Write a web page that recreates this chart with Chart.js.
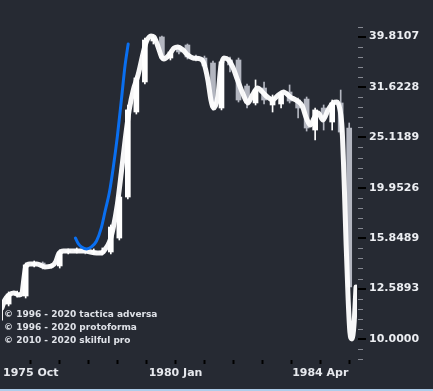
<!DOCTYPE html>
<html><head><meta charset="utf-8">
<script src="https://cdn.jsdelivr.net/npm/chart.js@4/dist/chart.umd.min.js"></script>
<style>html,body{margin:0;padding:0;background:#262a33;overflow:hidden}canvas{display:block}</style>
</head><body>
<canvas id="c" width="433" height="391"></canvas>
<script>
// ---- data ----
const quarters = ['1974 Q4','1975 Q1','1975 Q2','1975 Q3','1975 Q4','1976 Q1','1976 Q2','1976 Q3','1976 Q4',
  '1977 Q1','1977 Q2','1977 Q3','1977 Q4','1978 Q1','1978 Q2','1978 Q3','1978 Q4','1979 Q1','1979 Q2','1979 Q3','1979 Q4',
  '1980 Q1','1980 Q2','1980 Q3','1980 Q4','1981 Q1','1981 Q2','1981 Q3','1981 Q4','1982 Q1','1982 Q2','1982 Q3','1982 Q4',
  '1983 Q1','1983 Q2','1983 Q3','1983 Q4','1984 Q1','1984 Q2','1984 Q3','1984 Q4','1985 Q1'];
const opens  = [10.90,11.73,12.23,12.17,14.03,14.15,13.90,13.96,14.88,14.95,15.02,14.88,14.81,14.88,15.86,19.13,28.21,32.36,39.02,39.75,36.10,
  37.79,38.31,36.27,36.10,35.29,28.73,35.78,35.78,31.77,29.40,31.48,29.13,29.26,30.91,29.80,29.93,25.98,28.73,26.95,29.40,26.22];
const highs  = [12.06,12.40,12.45,14.15,14.28,14.22,14.09,15.02,15.09,15.16,15.09,15.09,15.16,16.84,19.31,29.13,33.25,39.56,39.93,39.93,37.44,
  38.13,38.49,36.60,36.43,35.62,35.78,36.27,36.10,32.06,32.66,32.36,30.49,30.91,31.92,30.07,30.21,28.73,29.13,29.80,31.19,26.83];
const lows   = [10.81,11.63,12.11,12.06,13.90,13.77,13.83,13.83,14.75,14.81,14.75,14.75,14.68,14.75,15.72,18.96,27.95,32.06,38.49,35.78,35.78,
  36.77,35.94,35.62,34.50,28.48,28.48,33.88,29.53,28.73,29.13,29.26,28.21,28.73,29.40,27.45,25.86,24.82,25.98,25.98,25.50,11.95];
const closes = [11.95,12.28,12.34,14.03,14.15,13.90,14.03,14.88,14.95,15.02,14.88,14.95,14.95,16.68,19.13,28.48,32.96,39.20,39.56,36.10,37.11,
  37.11,36.27,35.94,34.82,28.86,35.46,34.98,29.80,29.40,31.19,29.80,30.21,30.63,29.66,28.73,26.22,28.48,27.45,29.40,25.74,12.68];

const trendDates = [1974.84,1974.90,1974.99,1975.11,1975.25,1975.40,1975.49,1975.55,1975.60,1975.72,1975.93,1976.16,1976.36,1976.48,
  1976.57,1976.71,1976.95,1977.33,1977.68,1977.82,1977.94,1978.06,1978.17,1978.29,1978.41,1978.52,1978.64,1978.76,1978.90,1979.05,
  1979.14,1979.28,1979.37,1979.49,1979.58,1979.66,1979.81,1979.96,1980.07,1980.22,1980.36,1980.51,1980.74,1980.83,1980.95,1981.04,
  1981.12,1981.24,1981.33,1981.42,1981.56,1981.68,1981.82,1981.97,1982.12,1982.26,1982.41,1982.55,1982.70,1982.85,1983.02,1983.17,
  1983.37,1983.58,1983.72,1983.84,1983.96,1984.07,1984.19,1984.33,1984.48,1984.63,1984.74,1984.83,1984.89,1984.95,1985.01,1985.07,
  1985.12,1985.18,1985.24,1985.30];
const trendValues = [11.26,11.52,11.95,12.23,12.34,12.23,12.34,13.21,13.90,14.09,14.09,13.90,13.96,14.22,
  14.75,14.95,14.95,14.95,14.81,14.81,15.09,15.58,16.61,18.45,21.45,24.82,28.48,31.19,33.41,36.94,
  38.85,39.93,39.75,37.96,36.43,35.94,36.60,37.79,37.96,37.44,36.60,36.10,35.94,35.29,32.66,29.80,
  28.73,30.21,34.65,36.10,35.78,34.65,32.66,30.77,29.40,30.49,31.48,30.91,30.21,29.80,30.49,30.91,
  30.21,29.66,29.00,27.45,26.58,27.45,28.08,27.20,28.48,29.40,29.53,28.48,26.22,20.68,15.37,11.95,
  10.33,10.00,10.66,12.68];

const signalDates  = [1977.06,1977.15,1977.24,1977.39,1977.53,1977.68,1977.82,1977.94,1978.06,1978.17,1978.29,1978.41,1978.52,1978.61];
const signalValues = [15.86,15.44,15.23,15.09,15.23,15.65,16.61,18.03,19.57,21.85,25.16,29.80,34.98,38.49];

const xTickLabels = ['1975 Oct','1980 Jan','1984 Apr'];
const xTickDates  = [1975.75, 1980.0, 1984.25];
const yTickLabels = ['10.0000','12.5893','15.8489','19.9526','25.1189','31.6228','39.8107'];
const credits = ['\u00A9 1996 - 2020 tactica adversa','\u00A9 1996 - 2020 protoforma','\u00A9 2010 - 2020 skilful pro'];

// ---- styling / construction ----
const BG = '#262a33', UP = '#ffffff', DOWN = '#b3b6c0';
const X_MIN = 1974.903, X_MAX = 1985.329, Y_MIN = 9.085, Y_MAX = 42.56;

function qTime(q){ const p = q.split(' Q'); return +p[0] + (p[1]-1)*0.25 + 0.1; }
const candleX = quarters.map(qTime);
const bodies = candleX.map((x,i)=>({x, y:[opens[i], closes[i]]}));
const wicks  = candleX.map((x,i)=>({x, y:[lows[i], highs[i]]}));
const colors = closes.map((c,i)=> c >= opens[i] ? UP : DOWN);

const yTickVals = yTickLabels.map(parseFloat);
const xTicks = [];
for (let i=0;i<xTickDates.length-1;i++){
  for (let k=0;k<5;k++) xTicks.push({v: xTickDates[i] + (xTickDates[i+1]-xTickDates[i])*k/5, l: k===0 ? xTickLabels[i] : ''});
}
const step = (xTickDates[1]-xTickDates[0])/5;
xTicks.push({v: xTickDates[xTickDates.length-1], l: xTickLabels[xTickLabels.length-1]});
for (let v = xTickDates[xTickDates.length-1]+step; v <= X_MAX; v += step) xTicks.push({v, l:''});

Chart.defaults.font.family = '"DejaVu Sans", sans-serif';

const deco = {
  id: 'deco',
  beforeDraw(chart){ const c = chart.ctx; c.save(); c.fillStyle = BG; c.fillRect(0,0,chart.width,chart.height); c.restore(); },
  afterDraw(chart){
    const c = chart.ctx, ys = chart.scales.y, a = chart.chartArea;
    c.save();
    for (let j=-5;j<=40;j++){
      if (j%5===0) continue;
      const py = ys.getPixelForValue(Math.pow(10, 1+0.02*j));
      if (py < a.top || py > a.bottom) continue;
      c.fillStyle = '#858891'; c.fillRect(a.right+1, Math.round(py), 5, 1);
    }
    yTickVals.forEach(v=>{ const py = ys.getPixelForValue(v); c.fillStyle = '#000'; c.fillRect(a.right+1, Math.round(py)-1, 8, 2); });
    c.font = 'bold 9px "DejaVu Sans"'; c.fillStyle = '#dfe2e8'; c.textBaseline = 'middle'; c.textAlign = 'left';
    credits.forEach((t,i)=> c.fillText(t, 4, 315 + 13*i));
    c.fillStyle = '#aecdeb'; c.fillRect(0, 389, chart.width, 2);
    c.restore();
  }
};

new Chart(document.getElementById('c'), {
  type: 'bar',
  data: { datasets: [
    { type:'line', data: signalDates.map((x,i)=>({x, y: signalValues[i]})), borderColor:'#0a6ff0', borderWidth:3,
      pointRadius:0, cubicInterpolationMode:'monotone', borderCapStyle:'round', order:0 },
    { type:'line', data: trendDates.map((x,i)=>({x, y: trendValues[i]})), borderColor:'rgba(255,255,255,0.96)', borderWidth:5,
      pointRadius:0, cubicInterpolationMode:'monotone', borderCapStyle:'round', borderJoinStyle:'round', order:1 },
    { type:'bar', data: bodies, backgroundColor: colors, borderWidth:0, barThickness:5, maxBarThickness:5, grouped:false, order:2 },
    { type:'bar', data: wicks, backgroundColor: colors, borderWidth:0, barThickness:1, maxBarThickness:1, grouped:false, order:3 }
  ]},
  options: {
    responsive:false, animation:false, devicePixelRatio:1,
    layout:{ padding:{ top:22, left:0, right:0, bottom:0 } },
    plugins:{ legend:{display:false}, tooltip:{enabled:false} },
    scales:{
      x:{ type:'linear', min:X_MIN, max:X_MAX, offset:false,
        grid:{ display:true, drawOnChartArea:false, drawTicks:true, tickLength:4, tickColor:'#000', tickWidth:2, offset:false },
        border:{ display:false },
        ticks:{ autoSkip:false, maxRotation:0, padding:3, color:'#e6e8ed', font:{ size:11, weight:'bold' },
          callback:(v)=>{ const t = xTicks.find(o=>Math.abs(o.v-v)<1e-6); return t ? t.l : ''; } },
        afterBuildTicks:(s)=>{ s.ticks = xTicks.map(o=>({value:o.v})); },
        afterFit:(s)=>{ s.height = 31; } },
      y:{ type:'logarithmic', position:'right', min:Y_MIN, max:Y_MAX,
        grid:{ display:false, drawTicks:false }, border:{ display:false },
        ticks:{ autoSkip:false, padding:12, color:'#eceef2', font:{ size:11, weight:'bold' },
          callback:(v)=>{ const i = yTickVals.findIndex(t=>Math.abs(t-v)<1e-6); return i>=0 ? yTickLabels[i] : ''; } },
        afterBuildTicks:(s)=>{ s.ticks = yTickVals.map(v=>({value:v})); },
        afterFit:(s)=>{ s.width = 76; } }
    }
  },
  plugins:[deco]
});
</script>
</body></html>
